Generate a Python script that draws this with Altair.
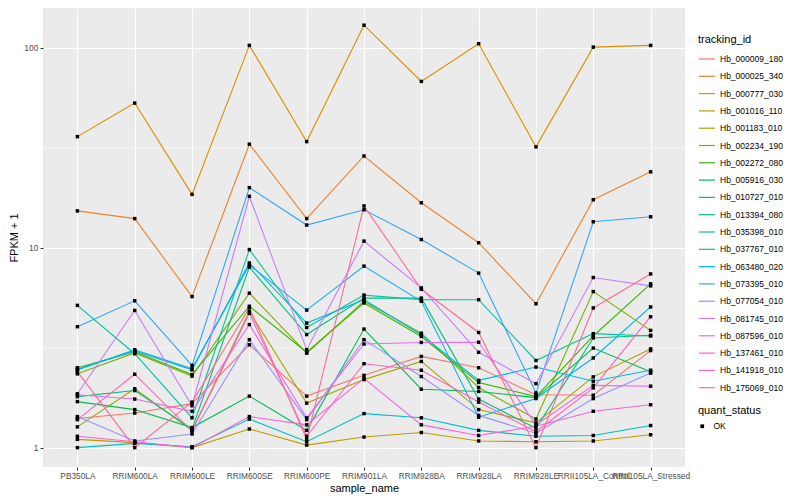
import altair as alt
import pandas as pd

samples = ["PB350LA", "RRIM600LA", "RRIM600LE", "RRIM600SE", "RRIM600PE",
           "RRIM901LA", "RRIM928BA", "RRIM928LA", "RRIM928LE",
           "RRII105LA_Control", "RRII105LA_Stressed"]

tracking_ids = ["Hb_000009_180", "Hb_000025_340", "Hb_000777_030", "Hb_001016_110",
                "Hb_001183_010", "Hb_002234_190", "Hb_002272_080", "Hb_005916_030",
                "Hb_010727_010", "Hb_013394_080", "Hb_035398_010", "Hb_037767_010",
                "Hb_063480_020", "Hb_073395_010", "Hb_077054_010", "Hb_081745_010",
                "Hb_087596_010", "Hb_137461_010", "Hb_141918_010", "Hb_175069_010"]

hue_colors = ["#F8766D", "#EA8331", "#D89000", "#C09B00", "#A3A500", "#7CAE00",
              "#39B600", "#00BB4E", "#00BF7D", "#00C1A3", "#00BFC4", "#00BAE0",
              "#00B0F6", "#35A2FF", "#9590FF", "#C77CFF", "#E76BF3", "#FA62DB",
              "#FF62BC", "#FF6C91"]

# FPKM + 1 per sample (same order as samples)
hb_000009_180 = [1.40, 1.49, 1.66, 3.27, 1.81, 2.30, 2.86, 2.51, 1.84, 1.83, 3.06]
hb_000025_340 = [15.3, 14.0, 5.7, 33.0, 14.0, 28.8, 16.8, 10.6, 5.25, 17.4, 24.0]
hb_000777_030 = [36.0, 53.0, 18.5, 103.0, 34.0, 130.0, 68.0, 105.0, 32.0, 101.0, 103.0]
hb_001016_110 = [1.10, 1.06, 1.00, 1.24, 1.03, 1.13, 1.19, 1.08, 1.07, 1.08, 1.16]
hb_001183_010 = [1.27, 1.97, 1.22, 4.80, 1.67, 2.19, 2.70, 1.55, 1.33, 2.26, 3.12]
hb_002234_190 = [2.34, 2.98, 2.28, 5.93, 2.97, 5.40, 3.74, 2.00, 1.39, 6.04, 3.86]
hb_002272_080 = [2.51, 3.02, 2.32, 5.10, 3.00, 5.30, 3.60, 2.12, 1.80, 3.62, 6.60]
hb_005916_030 = [1.70, 1.55, 1.26, 1.81, 1.22, 3.92, 1.96, 1.91, 1.78, 3.15, 2.40]
hb_010727_010 = [1.80, 1.93, 1.24, 8.00, 3.68, 5.60, 5.60, 1.75, 1.25, 3.54, 3.65]
hb_013394_080 = [5.15, 2.95, 1.41, 9.80, 3.99, 5.80, 5.50, 5.50, 2.73, 3.72, 3.62]
hb_035398_010 = [1.00, 1.05, 1.01, 1.39, 1.07, 1.48, 1.41, 1.22, 1.14, 1.15, 1.29]
hb_037767_010 = [2.47, 3.05, 2.45, 8.40, 4.20, 5.50, 3.67, 2.17, 2.53, 2.15, 2.44]
hb_063480_020 = [2.45, 3.09, 2.48, 8.20, 4.88, 8.10, 5.40, 1.42, 1.76, 2.81, 5.06]
hb_073395_010 = [4.03, 5.43, 2.58, 20.0, 13.0, 15.5, 11.0, 7.47, 1.88, 13.5, 14.3]
hb_077054_010 = [1.43, 1.08, 1.17, 3.47, 1.38, 3.47, 2.27, 1.45, 1.18, 1.76, 2.36]
hb_081745_010 = [1.86, 4.86, 1.62, 18.1, 3.09, 10.8, 6.30, 3.00, 2.09, 7.10, 6.45]
hb_087596_010 = [1.84, 1.75, 1.52, 4.13, 1.41, 3.30, 3.36, 3.37, 1.30, 2.05, 2.03]
hb_137461_010 = [1.14, 1.07, 1.00, 1.43, 1.30, 2.22, 1.30, 1.15, 1.28, 1.52, 1.64]
hb_141918_010 = [1.38, 2.33, 1.21, 4.70, 1.14, 2.63, 2.44, 1.69, 1.20, 1.99, 4.52]
hb_175069_010 = [2.40, 1.00, 1.69, 5.00, 1.10, 16.2, 6.20, 3.77, 1.00, 5.00, 7.40]

series = [hb_000009_180, hb_000025_340, hb_000777_030, hb_001016_110, hb_001183_010,
          hb_002234_190, hb_002272_080, hb_005916_030, hb_010727_010, hb_013394_080,
          hb_035398_010, hb_037767_010, hb_063480_020, hb_073395_010, hb_077054_010,
          hb_081745_010, hb_087596_010, hb_137461_010, hb_141918_010, hb_175069_010]

minor_breaks = [3.1623, 31.623]

rows = []
for tid, vals in zip(tracking_ids, series):
    for i, (s, v) in enumerate(zip(samples, vals)):
        rows.append({"tracking_id": tid, "sample_name": s, "idx": i,
                     "fpkm1": v, "quant_status": "OK"})
df = pd.DataFrame(rows)
minor_df = pd.DataFrame({"v": minor_breaks})

FONT = "Liberation Sans"

x_enc = alt.X("sample_name:N",
              scale=alt.Scale(type="point", padding=0.6, domain=samples),
              axis=alt.Axis(title="sample_name", labelAngle=0, labelOverlap=False,
                            labelBound=False, grid=True, gridColor="white",
                            gridWidth=1.1, tickSize=3, labelPadding=1,
                            labelFontSize=8.3, titlePadding=3))
y_enc = alt.Y("fpkm1:Q",
              scale=alt.Scale(type="log", domain=[0.80, 158.5], nice=False),
              axis=alt.Axis(title="FPKM + 1", values=[1, 10, 100], format="d",
                            grid=True, gridColor="white", gridWidth=1.1,
                            tickSize=3, labelPadding=2, labelFontSize=8.5,
                            titlePadding=4))

minor = alt.Chart(minor_df).mark_rule(color="white", strokeWidth=0.55).encode(
    y=alt.Y("v:Q")
)

lines = alt.Chart(df).mark_line(strokeWidth=1.1).encode(
    x=x_enc,
    y=y_enc,
    color=alt.Color("tracking_id:N",
                    scale=alt.Scale(domain=tracking_ids, range=hue_colors),
                    legend=alt.Legend(title="tracking_id", orient="none",
                                      legendX=655, legendY=26,
                                      symbolType="stroke", symbolSize=256,
                                      symbolStrokeWidth=1.2, rowPadding=3.3,
                                      labelFontSize=8.5, titleFontSize=11,
                                      titleFontWeight="normal", titlePadding=5,
                                      labelOffset=4, labelColor="black",
                                      titleColor="black")),
    order=alt.Order("idx:Q"),
)

points = alt.Chart(df).mark_point(filled=True, size=12, color="black", opacity=1).encode(
    x=alt.X("sample_name:N"),
    y=alt.Y("fpkm1:Q"),
    shape=alt.Shape("quant_status:N",
                    scale=alt.Scale(domain=["OK"], range=["square"]),
                    legend=alt.Legend(title="quant_status", orient="none",
                                      legendX=655, legendY=397,
                                      symbolSize=14, symbolFillColor="black",
                                      symbolStrokeColor="black",
                                      labelFontSize=8.5, titleFontSize=11,
                                      titleFontWeight="normal", titlePadding=6,
                                      labelOffset=7, labelColor="black",
                                      titleColor="black")),
)

chart = alt.layer(minor, lines, points).properties(
    width=642, height=459, padding={"left": 0, "top": 0, "right": 5, "bottom": 5}
).configure_view(
    fill="#EBEBEB", stroke=None
).configure_axis(
    labelFont=FONT, titleFont=FONT, labelColor="#4D4D4D", tickColor="#333333",
    domain=False, titleFontSize=11, titleFontWeight="normal", titleColor="black"
).configure_legend(
    labelFont=FONT, titleFont=FONT
)

chart.save("out.html", embed_options={"renderer": "svg", "actions": False})
